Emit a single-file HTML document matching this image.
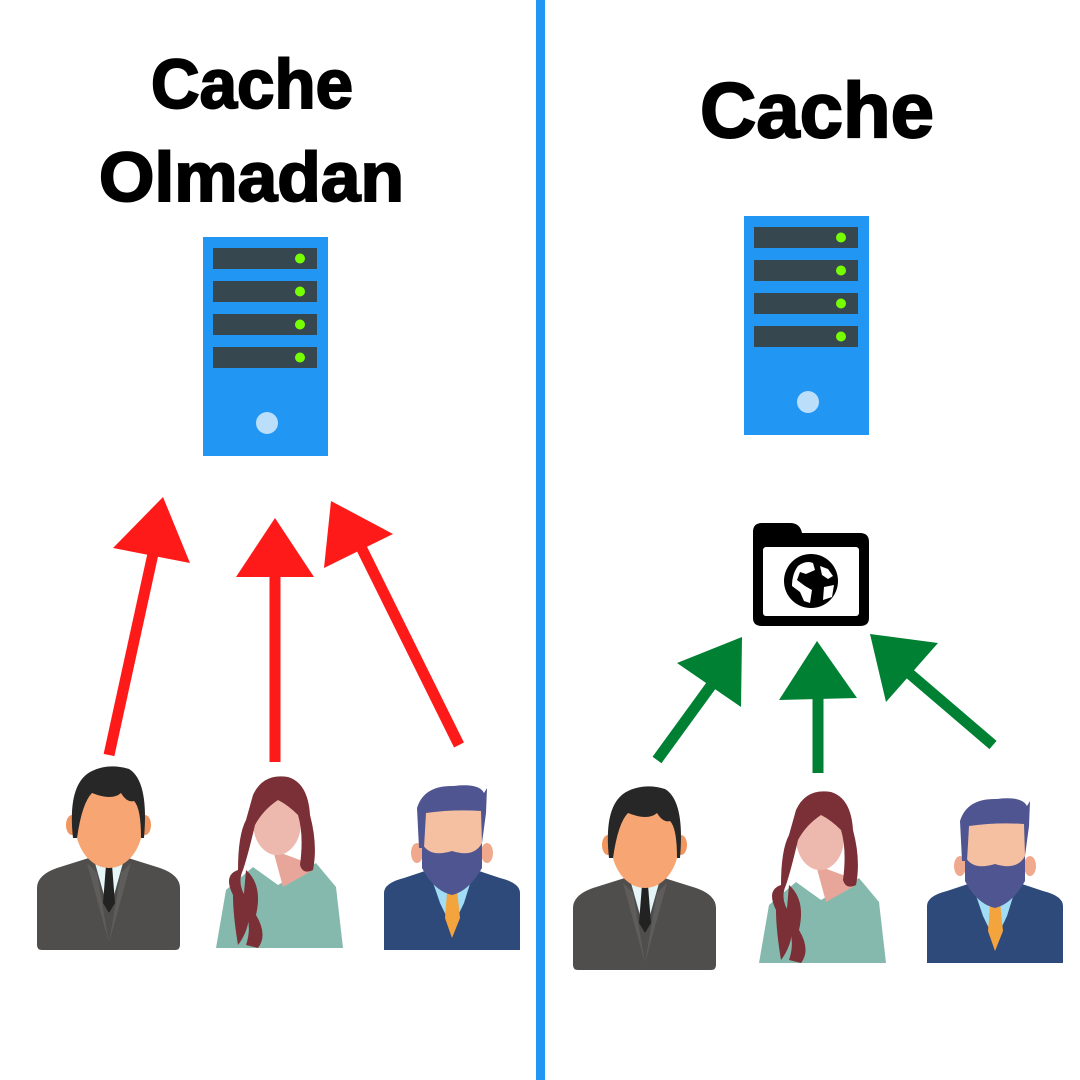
<!DOCTYPE html>
<html><head><style>
html,body{margin:0;padding:0;background:#fff;}
svg{display:block;}
text{font-family:"Liberation Sans","DejaVu Sans",sans-serif;font-weight:bold;}
</style></head><body>
<svg width="1080" height="1080" viewBox="0 0 1080 1080" xmlns="http://www.w3.org/2000/svg">
<defs>
 <g id="server">
  <rect x="0" y="0" width="125" height="219" fill="#2196F3"/>
  <rect x="10" y="11" width="104" height="21" fill="#37474F"/>
  <rect x="10" y="44" width="104" height="21" fill="#37474F"/>
  <rect x="10" y="77" width="104" height="21" fill="#37474F"/>
  <rect x="10" y="110" width="104" height="21" fill="#37474F"/>
  <circle cx="97" cy="21.5" r="5" fill="#76FF03"/>
  <circle cx="97" cy="54.5" r="5" fill="#76FF03"/>
  <circle cx="97" cy="87.5" r="5" fill="#76FF03"/>
  <circle cx="97" cy="120.5" r="5" fill="#76FF03"/>
  <circle cx="64" cy="186" r="11" fill="#BBDEFB"/>
 </g>
 <g id="p1">
  <path d="M0 125 Q0 112 20 105 L55 94 L88 94 L123 105 Q143 112 143 125 L143 182 Q143 187 138 187 L5 187 Q0 187 0 182 Z" fill="#4F4E4C"/>
  <path d="M58 100 L72 150 L86 100 Z" fill="#E6F5F8"/>
  <path d="M50 100 L72 180 L60 110 Z" fill="#5E5D5B"/>
  <path d="M94 100 L72 180 L84 110 Z" fill="#5E5D5B"/>
  <path d="M69 102 L75 102 L78 140 L72 150 L66 140 Z" fill="#222"/>
  <rect x="60" y="80" width="24" height="20" fill="#F2965F"/>
  <ellipse cx="35" cy="62" rx="6" ry="10" fill="#F2965F"/>
  <ellipse cx="108" cy="62" rx="6" ry="10" fill="#F2965F"/>
  <ellipse cx="72" cy="60" rx="34" ry="45" fill="#F7A673"/>
  <path d="M36 75 Q30 20 55 8 Q72 0 92 6 Q112 18 107 75 L104 75 Q104 45 97 38 Q90 40 84 30 Q75 38 55 30 Q45 40 40 75 Z" fill="#272727"/>
 </g>
 <g id="p2">
  <path d="M8 173 L18 115 L45 92 L70 110 L108 88 L128 112 L135 173 Z" fill="#86B9AD"/>
  <path d="M65 75 L100 88 L105 95 L75 112 Z" fill="#E8A69A"/>
  <ellipse cx="69" cy="48" rx="24" ry="32" fill="#EDB8AD"/>
  <path d="M45 20 Q55 -2 80 2 Q100 8 102 40 Q110 70 105 95 Q95 100 92 90 Q96 60 90 40 Q80 30 70 25 Q55 35 47 50 Q40 80 35 95 Q28 110 40 125 Q45 150 30 170 Q25 140 25 120 Q15 100 30 95 Q30 60 38 45 Z" fill="#7B2F36"/>
  <path d="M38 95 Q55 110 48 140 Q60 160 50 173 L38 170 Q45 150 35 130 Z" fill="#7B2F36"/>
 </g>
 <g id="p3">
  <path d="M0 110 Q0 100 20 95 L50 85 L86 85 L116 95 Q136 100 136 110 L136 167 L0 167 Z" fill="#2E4A7B"/>
  <path d="M45 88 L68 85 L90 88 L80 120 L68 145 L56 120 Z" fill="#A1DDF4"/>
  <path d="M64 97 L72 97 L76 135 L68 155 L61 135 Z" fill="#F4A43C"/>
  <ellipse cx="33" cy="70" rx="6" ry="10" fill="#F0A98D"/>
  <ellipse cx="103" cy="70" rx="6" ry="10" fill="#F0A98D"/>
  <rect x="55" y="70" width="26" height="20" fill="#F0A98D"/>
  <rect x="38" y="20" width="60" height="70" rx="12" fill="#F5BFA2"/>
  <path d="M38 60 Q45 75 68 68 Q90 75 98 60 L98 85 Q85 108 68 112 Q50 108 38 85 Z" fill="#4F5590"/>
  <path d="M35 65 L33 25 Q40 2 70 3 Q95 0 100 10 L103 5 L102 30 L98 60 L97 28 Q70 26 42 30 L40 65 Z" fill="#4F5590"/>
 </g>
</defs>

<rect x="536" y="0" width="9" height="1080" fill="#2196F3"/>

<g stroke="#000" stroke-width="2" fill="#000">
<text x="151" y="108" font-size="70" textLength="202" lengthAdjust="spacingAndGlyphs">Cache</text>
<text x="99" y="201" font-size="70" textLength="305" lengthAdjust="spacingAndGlyphs">Olmadan</text>
<text x="700" y="137" font-size="78" textLength="234" lengthAdjust="spacingAndGlyphs">Cache</text>
</g>

<use href="#server" x="203" y="237"/>
<use href="#server" x="744" y="216"/>

<g fill="#FF1A1A" stroke="#FF1A1A">
 <line x1="109" y1="755" x2="156" y2="540" stroke-width="11" fill="none"/>
 <polygon points="163,497 113,548 190,563" stroke="none"/>
 <line x1="275" y1="762" x2="275" y2="570" stroke-width="11" fill="none"/>
 <polygon points="275,518 236,577 314,577" stroke="none"/>
 <line x1="459" y1="745" x2="360" y2="545" stroke-width="11" fill="none"/>
 <polygon points="331,501 324,568 393,534" stroke="none"/>
</g>

<g fill="#008033" stroke="#008033">
 <line x1="657" y1="760" x2="718" y2="676" stroke-width="11" fill="none"/>
 <polygon points="742,637 677,663 741,707" stroke="none"/>
 <line x1="818" y1="773" x2="818" y2="695" stroke-width="11" fill="none"/>
 <polygon points="817,641 779,700 857,698" stroke="none"/>
 <line x1="993" y1="745" x2="903" y2="668" stroke-width="11" fill="none"/>
 <polygon points="870,634 886,702 938,643" stroke="none"/>
</g>

<path d="M753 532 Q753 523 762 523 L790 523 Q800 523 802 533 L860 533 Q869 533 869 542 L869 618 Q869 626 860 626 L762 626 Q753 626 753 618 Z" fill="#000"/>
<rect x="763" y="547" width="96" height="69" rx="3" fill="#fff"/>
<circle cx="811" cy="581" r="27" fill="#000"/>
<path d="M798 566 Q806 560 813 563 L815 570 L806 574 L800 572 L797 580 L805 586 L812 590 L810 603 L804 601 L800 592 L792 586 Q792 574 798 566 Z" fill="#fff"/>
<path d="M820 566 L828 569 L833 576 L828 579 L822 575 Z" fill="#fff"/>
<path d="M824 587 L834 585 L832 597 L823 600 Z" fill="#fff"/>

<use href="#p1" x="37" y="763"/>
<use href="#p2" x="208" y="775"/>
<use href="#p3" x="384" y="783"/>
<use href="#p1" x="573" y="783"/>
<use href="#p2" x="751" y="790"/>
<use href="#p3" x="927" y="796"/>
</svg>
</body></html>
